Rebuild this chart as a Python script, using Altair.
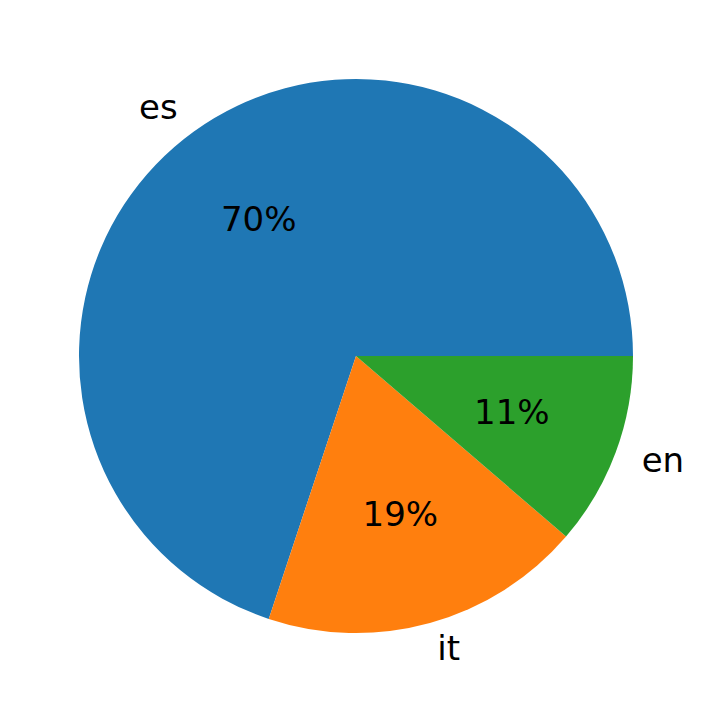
import math
import altair as alt
import pandas as pd

categories = ["es", "it", "en"]
values = [69.9, 18.8, 11.3]
stack_order = [3, 2, 1]
colors = ["#1f77b4", "#ff7f0e", "#2ca02c"]

df = pd.DataFrame({"cat": categories, "value": values, "order": stack_order})

R = 277
theta_scale = alt.Scale(domain=[0, 100], range=[math.pi / 2, math.pi / 2 + 2 * math.pi])

base = (
    alt.Chart(df)
    .transform_window(cum="sum(value)", sort=[{"field": "order"}], frame=[None, 0])
    .transform_calculate(
        start="datum.cum - datum.value",
        mid="datum.cum - datum.value / 2",
        pct="format(datum.value, '.0f') + '%'",
        xs="sin(PI / 2 + datum.mid / 100 * 2 * PI)",
    )
)

arcs = base.mark_arc(radius=R, stroke=None).encode(
    theta=alt.Theta("start:Q", scale=theta_scale),
    theta2="cum:Q",
    color=alt.Color("cat:N", scale=alt.Scale(domain=categories, range=colors), legend=None),
)

font = "DejaVu Sans"
FS = 34
pct_text = base.mark_text(radius=0.6 * R, fontSize=FS, font=font, color="black", align="center", baseline="middle").encode(
    theta=alt.Theta("mid:Q", scale=theta_scale),
    text="pct:N",
)

lab_left = base.transform_filter("datum.xs >= 0").mark_text(
    radius=1.1 * R, fontSize=FS, font=font, color="black", align="left", baseline="middle"
).encode(theta=alt.Theta("mid:Q", scale=theta_scale), text="cat:N")

lab_right = base.transform_filter("datum.xs < 0").mark_text(
    radius=1.1 * R, fontSize=FS, font=font, color="black", align="right", baseline="middle"
).encode(theta=alt.Theta("mid:Q", scale=theta_scale), text="cat:N")

chart = (
    alt.layer(arcs, pct_text, lab_left, lab_right)
    .properties(width=696, height=696, padding=0, autosize="none")
    .configure_view(stroke=None)
)

chart.save("out.html", embed_options={"renderer": "svg", "actions": False})
